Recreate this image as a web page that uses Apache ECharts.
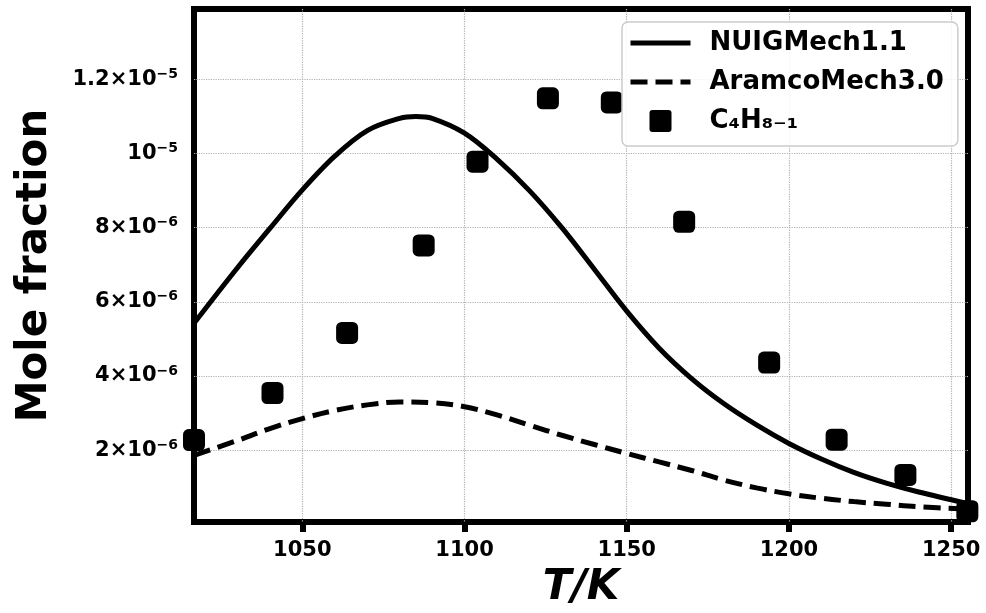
<!DOCTYPE html>
<html>
<head>
<meta charset="utf-8">
<script src="https://cdn.jsdelivr.net/npm/echarts@6/dist/echarts.min.js"></script>
<style>
  html, body { margin: 0; padding: 0; background: #fff; }
  #chart { width: 986px; height: 613px; }
</style>
</head>
<body>
<div id="chart"></div>
<script>
// temperature (K) and mole fraction
var nuigT = [1016.6, 1030, 1040, 1050, 1060, 1070, 1080, 1085, 1090, 1100, 1110, 1120, 1130, 1140, 1150, 1160, 1170, 1180, 1190, 1200, 1210, 1220, 1230, 1240, 1255]
var nuigX = [5.42e-6, 6.92e-6, 7.98e-6, 9.02e-6, 9.93e-6, 10.62e-6, 10.95e-6, 11.00e-6, 10.95e-6, 10.55e-6, 9.85e-6, 9.00e-6, 8.00e-6, 6.88e-6, 5.75e-6, 4.75e-6, 3.93e-6, 3.25e-6, 2.68e-6, 2.18e-6, 1.76e-6, 1.40e-6, 1.11e-6, 0.87e-6, 0.56e-6]

var aramcoT = [1016.6, 1030, 1040, 1050, 1060, 1070, 1080, 1090, 1100, 1110, 1120, 1130, 1140, 1150, 1160, 1170, 1180, 1190, 1200, 1210, 1220, 1230, 1240, 1255]
var aramcoX = [1.86e-6, 2.26e-6, 2.58e-6, 2.85e-6, 3.07e-6, 3.22e-6, 3.30e-6, 3.28e-6, 3.17e-6, 2.95e-6, 2.67e-6, 2.40e-6, 2.15e-6, 1.91e-6, 1.68e-6, 1.45e-6, 1.19e-6, 0.98e-6, 0.82e-6, 0.70e-6, 0.61e-6, 0.54e-6, 0.47e-6, 0.41e-6]

var expT = [1016.6, 1040.8, 1063.8, 1087.4, 1104.0, 1125.7, 1145.4, 1167.7, 1193.9, 1214.7, 1235.9, 1255.0]
var expX = [2.27e-6, 3.54e-6, 5.16e-6, 7.52e-6, 9.78e-6, 11.49e-6, 11.38e-6, 8.16e-6, 4.36e-6, 2.28e-6, 1.33e-6, 0.35e-6]

var xTicks = [1050, 1100, 1150, 1200, 1250]
var yTicks = [2e-6, 4e-6, 6e-6, 8e-6, 10e-6, 12e-6]
var yTickMant = ['2', '4', '6', '8', '', '1.2']
var yTickExp = ['−6', '−6', '−6', '−6', '−5', '−5']

function pairs(xs, ys) {
	return xs.map(function (x, i) { return [x, ys[i]] })
}

var font = 'DejaVu Sans'
var dash = [17, 8]
var squareIcon = 'path://M3,0 L19,0 Q22,0 22,3 L22,19 Q22,22 19,22 L3,22 Q0,22 0,19 L0,3 Q0,0 3,0 Z'
var myChart = echarts.init(document.getElementById('chart'))
var option = {
	animation: false,
	textStyle: { fontFamily: font },
	grid: {
		left: 194, right: 18, top: 9, bottom: 91,
		outerBoundsMode: 'none',
		containLabel: false,
		show: true,
		borderColor: '#000',
		borderWidth: 6,
		backgroundColor: '#fff'
	},
	legend: {
		orient: 'vertical',
		left: 622, top: 22,
		padding: [8, 14, 12, 6],
		itemWidth: 60,
		itemHeight: 22,
		itemGap: 13,
		symbolKeepAspect: true,
		backgroundColor: 'rgba(255,255,255,0.85)',
		borderColor: '#cccccc',
		borderWidth: 1.5,
		borderRadius: 6,
		textStyle: {
			fontFamily: font, fontWeight: 'bold', fontSize: 26,
			color: '#000', lineHeight: 26, padding: [0, 0, 0, 14]
		},
		data: [
			{ name: 'NUIGMech1.1', itemStyle: { opacity: 0 }, lineStyle: { width: 5, color: '#000' } },
			{ name: 'AramcoMech3.0', itemStyle: { opacity: 0 }, lineStyle: { width: 5, color: '#000', type: dash } },
			{ name: 'C₄H₈₋₁', icon: squareIcon }
		]
	},
	xAxis: {
		type: 'value',
		min: 1016.6, max: 1255.2,
		name: 'T/K',
		nameLocation: 'middle',
		nameGap: 45,
		nameTextStyle: { fontFamily: font, fontWeight: 'bold', fontStyle: 'italic', fontSize: 42, color: '#000' },
		axisLine: { show: false },
		axisTick: { show: true, customValues: xTicks, length: 10, lineStyle: { color: '#000', width: 6 } },
		axisLabel: {
			customValues: xTicks, margin: 18,
			formatter: function (v) { return String(v) },
			fontFamily: font, fontWeight: 'bold', fontSize: 21, color: '#000'
		},
		splitLine: { show: true, lineStyle: { color: '#b0b0b0', width: 1.2, type: 'dotted' } }
	},
	yAxis: {
		type: 'value',
		min: 0.06e-6, max: 13.9e-6,
		name: 'Mole fraction',
		nameLocation: 'middle',
		nameGap: 138,
		nameTextStyle: { fontFamily: font, fontWeight: 'bold', fontSize: 42, color: '#000' },
		axisLine: { show: false },
		axisTick: { show: false, customValues: yTicks },
		axisLabel: {
			customValues: yTicks,
			margin: 16,
			formatter: function (v) {
				var k = 0
				for (var i = 0; i < yTicks.length; i++) {
					if (Math.abs(yTicks[i] - v) < 1e-9) k = i
				}
				var m = yTickMant[k] ? yTickMant[k] + '×10' : '10'
				return '{m|' + m + '}{e|' + yTickExp[k] + '}'
			},
			rich: {
				m: { fontFamily: font, fontWeight: 'bold', fontSize: 21, color: '#000', lineHeight: 24 },
				e: { fontFamily: font, fontWeight: 'bold', fontSize: 14, color: '#000', lineHeight: 12, verticalAlign: 'top' }
			}
		},
		splitLine: { show: true, lineStyle: { color: '#b0b0b0', width: 1.2, type: 'dotted' } }
	},
	series: [
		{
			name: 'NUIGMech1.1',
			type: 'line',
			data: pairs(nuigT, nuigX),
			smooth: 0.35,
			symbol: 'none',
			lineStyle: { color: '#000', width: 5 },
			itemStyle: { color: '#000' }
		},
		{
			name: 'AramcoMech3.0',
			type: 'line',
			data: pairs(aramcoT, aramcoX),
			smooth: 0.35,
			symbol: 'none',
			lineStyle: { color: '#000', width: 5, type: dash },
			itemStyle: { color: '#000' }
		},
		{
			name: 'C₄H₈₋₁',
			type: 'scatter',
			data: pairs(expT, expX),
			symbol: 'roundRect',
			symbolSize: 22,
			itemStyle: { color: '#000', opacity: 1 },
			z: 3
		}
	]
}
myChart.setOption(option)
window.onresize = myChart.resize
</script>
</body>
</html>
